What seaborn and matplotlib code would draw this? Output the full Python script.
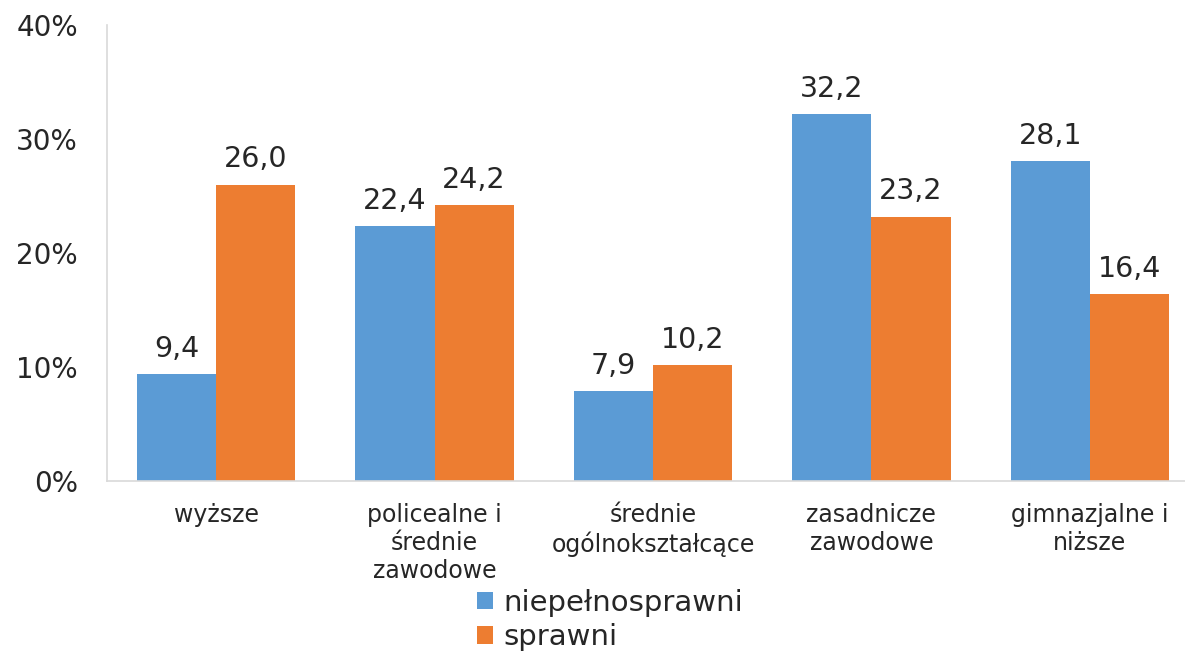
import pandas as pd
import matplotlib
matplotlib.use("Agg")
import matplotlib.pyplot as plt
import seaborn as sns

# data
categories = [
    "wyższe",
    "policealne i\nśrednie\nzawodowe",
    "średnie\nogólnokształcące",
    "zasadnicze\nzawodowe",
    "gimnazjalne i\nniższe",
]
niepelnosprawni = [9.4, 22.4, 7.9, 32.2, 28.1]
sprawni = [26.0, 24.2, 10.2, 23.2, 16.4]
series_names = ["niepełnosprawni", "sprawni"]
y_ticks = [0, 10, 20, 30, 40]

colors = ["#5B9BD5", "#ED7D31"]

df = pd.DataFrame({
    "kategoria": categories * 2,
    "grupa": [series_names[0]] * len(categories) + [series_names[1]] * len(categories),
    "wartosc": niepelnosprawni + sprawni,
})

sns.set_theme(style="white")
plt.rcParams["font.family"] = ["DejaVu Sans"]

fig = plt.figure(figsize=(11.85, 6.52), dpi=100)
ax = fig.add_axes([107 / 1185, 171 / 652, 1092 / 1185, 456 / 652])

sns.barplot(
    data=df,
    x="kategoria",
    y="wartosc",
    hue="grupa",
    palette=colors,
    width=0.725,
    gap=0,
    linewidth=0,
    saturation=1,
    ax=ax,
)

# value labels with decimal comma
for cont in ax.containers:
    ax.bar_label(
        cont,
        labels=[f"{v:.1f}".replace(".", ",") for v in cont.datavalues],
        padding=8,
        fontsize=20.5,
        color="#262626",
    )

ax.set_ylim(0, 40)
ax.set_xlim(-0.5, len(categories) - 0.5)
ax.set_yticks(y_ticks)
ax.set_yticklabels([f"{t}%" for t in y_ticks])
ax.set_xlabel("")
ax.set_ylabel("")

ax.tick_params(axis="y", length=0, pad=21, labelsize=20, labelcolor="#262626")
ax.tick_params(axis="x", length=0, pad=16, labelsize=17, labelcolor="#262626")
for lab in ax.get_xticklabels():
    lab.set_linespacing(1.2)

for side in ["top", "right"]:
    ax.spines[side].set_visible(False)
for side in ["left", "bottom"]:
    ax.spines[side].set_color("#D9D9D9")
    ax.spines[side].set_linewidth(1.2)

handles, labels = ax.get_legend_handles_labels()
ax.legend_.remove()
fig.legend(
    handles,
    labels,
    loc="upper left",
    bbox_to_anchor=(477 / 1185, 1 - 589 / 652),
    frameon=False,
    fontsize=21,
    handlelength=0.55,
    handleheight=0.55,
    handletextpad=0.35,
    labelspacing=0.22,
    borderpad=0,
    borderaxespad=0,
    labelcolor="#262626",
)

fig.savefig("out.png", dpi=100)
